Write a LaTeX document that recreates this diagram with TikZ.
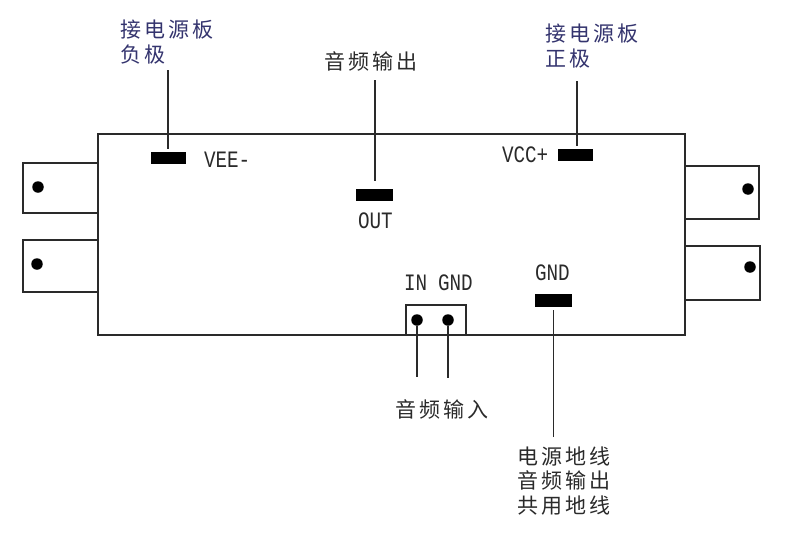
\documentclass[tikz,border=0pt]{standalone}
\usepackage{fontspec}
\newfontfamily\cjk[LetterSpace=15]{Noto Sans CJK SC}
\newfontfamily\pin[FakeStretch=0.82]{Liberation Mono}
\definecolor{navy}{HTML}{34346E}
\definecolor{ink}{HTML}{2A2A2A}

\begin{document}
\begin{tikzpicture}[x=1pt,y=-1pt]
  \tikzset{BoardStyle/.style = {
    shape         = rectangle,
    draw          = ink,
    line width    = 1.5pt,
    inner sep     = 0pt,
    outer sep     = 0pt
    }
  }
  \tikzset{PadStyle/.style = {
    shape         = rectangle,
    fill          = black,
    inner sep     = 0pt,
    outer sep     = 0pt,
    minimum width = 35pt,
    minimum height= 12pt
    }
  }
  \tikzset{DotStyle/.style = {
    shape         = circle,
    fill          = black,
    inner sep     = 0pt,
    outer sep     = 0pt,
    minimum size  = 11.5pt
    }
  }
  \tikzset{LeadStyle/.style = {
    draw          = ink,
    line width    = 1.7pt
    }
  }
  \tikzset{NoteStyle/.style = {
    inner sep     = 0pt,
    outer sep     = 0pt,
    align         = left,
    text          = ink,
    font          = \cjk\fontsize{21}{24.5}\selectfont
    }
  }
  \tikzset{PinStyle/.style = {
    inner sep     = 0pt,
    outer sep     = 0pt,
    text          = ink,
    font          = \pin\fontsize{23.5}{26}\selectfont
    }
  }
  \useasboundingbox (0,0) rectangle (800,538);

	\node[BoardStyle, minimum width=587pt, minimum height=201pt](Board) at (391.5, 234.5) {};
	\node[BoardStyle, minimum width=75pt, minimum height=50pt](TabA) at (60.5, 188) {};
	\node[BoardStyle, minimum width=75pt, minimum height=52pt](TabB) at (60.5, 266) {};
	\node[BoardStyle, minimum width=74pt, minimum height=53pt](TabC) at (722, 192.5) {};
	\node[BoardStyle, minimum width=75pt, minimum height=54pt](TabD) at (722.5, 273) {};
	\node[BoardStyle, minimum width=60pt, minimum height=30pt](Socket) at (436, 320) {};
	\node[DotStyle](DotA) at (38, 187) {};
	\node[DotStyle](DotB) at (37, 264) {};
	\node[DotStyle](DotC) at (748, 189) {};
	\node[DotStyle](DotD) at (750, 267) {};
	\node[DotStyle](DotIn) at (417, 320) {};
	\node[DotStyle](DotGnd) at (448, 320) {};
	\node[PadStyle](PadVee) at (168.5, 157.5) {};
	\node[PadStyle, minimum width=37pt](PadOut) at (374.5, 195) {};
	\node[PadStyle](PadVcc) at (575.5, 154.5) {};
	\node[PadStyle, minimum width=37pt, minimum height=13pt](PadGnd) at (553.5, 300.5) {};

	\node[PinStyle, anchor=west](PinVee) at (204, 160) {VEE-};
	\node[PinStyle, anchor=west](PinOut) at (358, 221) {OUT};
	\node[PinStyle, anchor=west](PinVcc) at (502, 155) {VCC+};
	\node[PinStyle, anchor=west](PinIn) at (404, 283) {IN};
	\node[PinStyle, anchor=west](PinSocketGnd) at (438, 283) {GND};
	\node[PinStyle, anchor=west](PinGnd) at (535, 273) {GND};

	\node[NoteStyle, anchor=west, text=navy](NoteVee) at (120, 42) {接电源板\\负极};
	\node[NoteStyle, anchor=west, text=navy](NoteVcc) at (545, 46) {接电源板\\正极};
	\node[NoteStyle, anchor=west](NoteOut) at (324, 61) {音频输出};
	\node[NoteStyle, anchor=west](NoteIn) at (395, 409) {音频输入};
	\node[NoteStyle, anchor=west](NoteGnd) at (517, 481) {电源地线\\音频输出\\共用地线};

	\coordinate (EndVee) at (167.7, 70);
	\coordinate (EndOut) at (375, 80);
	\coordinate (EndVcc) at (576.7, 81);
	\coordinate (EndGnd) at (553.4, 437);
	\coordinate (EndIn) at (417, 377);
	\coordinate (EndSocketGnd) at (448, 378);
	\draw[LeadStyle, shorten >=3pt](EndVee) to (EndVee |- PadVee.north);
	\draw[LeadStyle, shorten >=8pt](EndOut) to (EndOut |- PadOut.north);
	\draw[LeadStyle, shorten >=3pt](EndVcc) to (EndVcc |- PadVcc.north);
	\draw[LeadStyle, shorten >=3pt](EndGnd) to (EndGnd |- PadGnd.south);
	\draw[LeadStyle](DotIn) to (EndIn);
	\draw[LeadStyle](DotGnd) to (EndSocketGnd);

  \end{tikzpicture}
\end{document}
